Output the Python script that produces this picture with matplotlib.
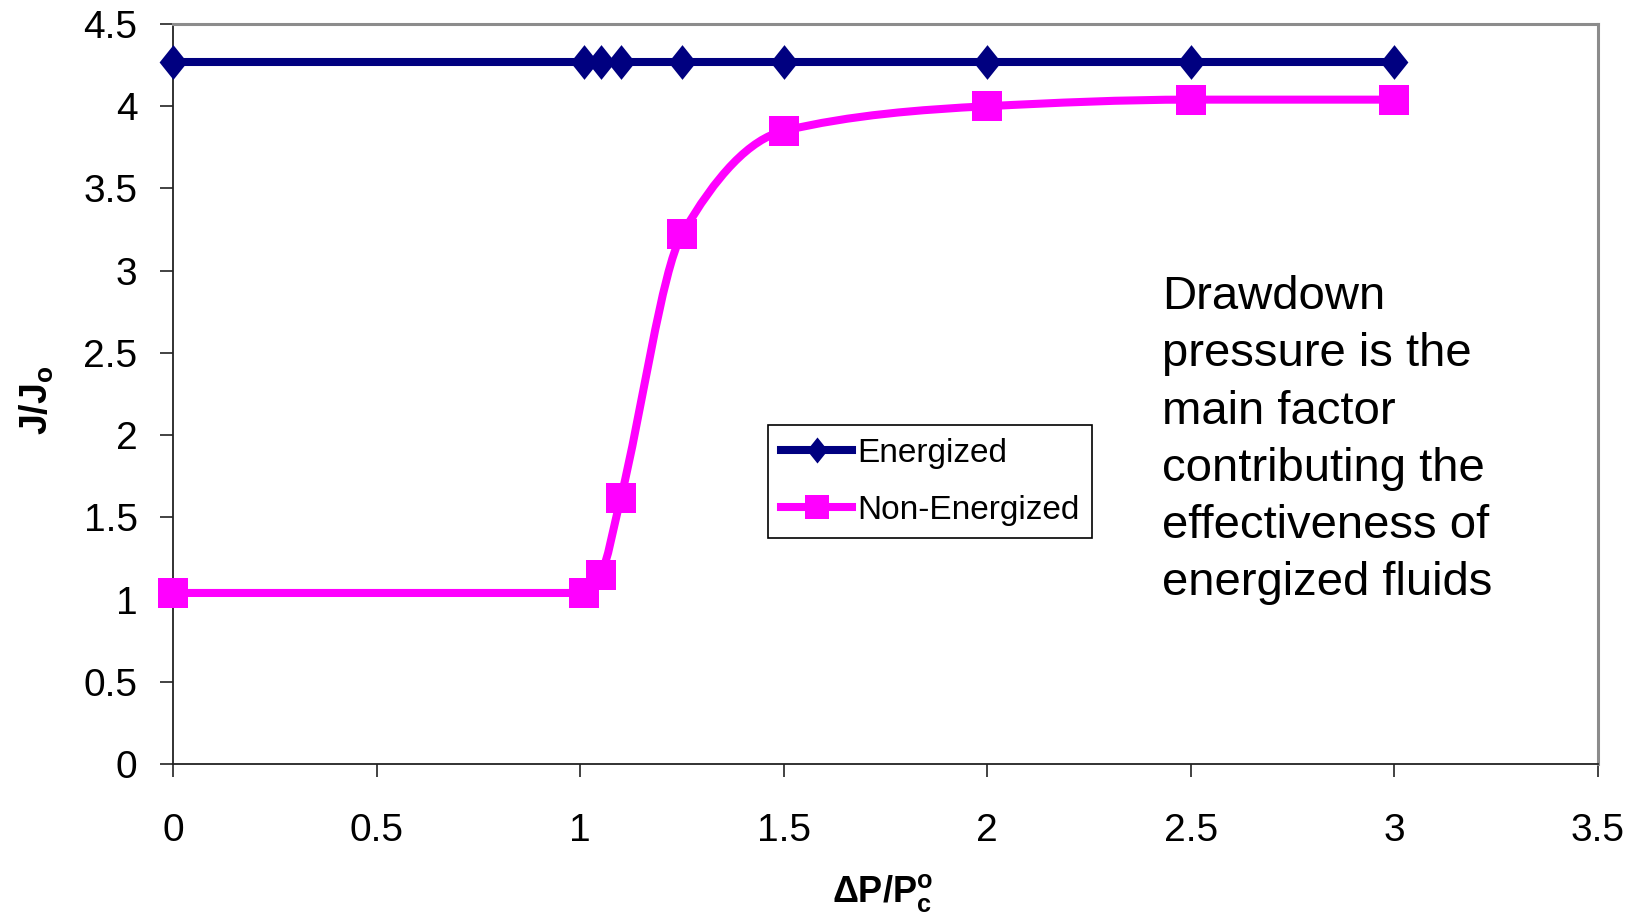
import numpy as np
import matplotlib
matplotlib.use('Agg')
import matplotlib.pyplot as plt
from matplotlib.path import Path
from matplotlib.patches import PathPatch
from matplotlib.lines import Line2D
from matplotlib.ticker import FuncFormatter

# --- fonts (Arial look-alike) ---
plt.rcParams['font.family'] = 'Liberation Sans'
plt.rcParams['mathtext.fontset'] = 'custom'
plt.rcParams['mathtext.rm'] = 'Liberation Sans'
plt.rcParams['mathtext.it'] = 'Liberation Sans:italic'
plt.rcParams['mathtext.bf'] = 'Liberation Sans:bold'

# --- data ---
dp_ratio = [0, 1.01, 1.05, 1.1, 1.25, 1.5, 2, 2.5, 3]
energized = [4.27, 4.27, 4.27, 4.27, 4.27, 4.27, 4.27, 4.27, 4.27]
non_energized = [1.04, 1.04, 1.15, 1.62, 3.22, 3.85, 4.00, 4.04, 4.04]

x_ticks = [0, 0.5, 1, 1.5, 2, 2.5, 3, 3.5]
y_ticks = [0, 0.5, 1, 1.5, 2, 2.5, 3, 3.5, 4, 4.5]

note = ("Drawdown\npressure is the\nmain factor\ncontributing the\n"
        "effectiveness of\nenergized fluids")

navy = '#000080'
pink = '#FF00FF'


def smooth_path(xs, ys):
    # excel-like smoothed line: monotone cubic hermite written as bezier segments
    xs = np.asarray(xs, float)
    ys = np.asarray(ys, float)
    h = np.diff(xs)
    d = np.diff(ys) / h
    m = np.zeros_like(xs)
    m[0], m[-1] = d[0], d[-1]
    for k in range(1, len(xs) - 1):
        if d[k - 1] * d[k] > 0:
            w1 = 2 * h[k] + h[k - 1]
            w2 = h[k] + 2 * h[k - 1]
            m[k] = (w1 + w2) / (w1 / d[k - 1] + w2 / d[k])
    verts = [(xs[0], ys[0])]
    codes = [Path.MOVETO]
    for k in range(len(xs) - 1):
        verts += [(xs[k] + h[k] / 3, ys[k] + m[k] * h[k] / 3),
                  (xs[k + 1] - h[k] / 3, ys[k + 1] - m[k + 1] * h[k] / 3),
                  (xs[k + 1], ys[k + 1])]
        codes += [Path.CURVE4] * 3
    return Path(verts, codes)


diamond = [(-0.4, 0), (0, 0.5), (0.4, 0), (0, -0.5), (-0.4, 0)]

fig = plt.figure(figsize=(16.38, 9.16), dpi=100)
ax = fig.add_axes([173 / 1638, 1 - 764 / 916, 1425 / 1638, 740 / 916])

# energized: straight line with diamonds
ax.plot(dp_ratio, energized, color=navy, lw=5.8, marker=diamond, ms=25,
        mfc=navy, mec=navy, mew=0, zorder=3, clip_on=False)

# non-energized: smoothed line + squares
ax.add_patch(PathPatch(smooth_path(dp_ratio, non_energized), fill=False,
                       edgecolor=pink, lw=5.8, zorder=2, capstyle='butt'))
ax.plot(dp_ratio, non_energized, ls='none', marker='s', ms=22.3,
        mfc=pink, mec=pink, mew=0, zorder=4, clip_on=False)

ax.set_xlim(0, 3.5)
ax.set_ylim(0, 4.5)
ax.set_xticks(x_ticks)
ax.set_yticks(y_ticks)
fmt = FuncFormatter(lambda v, p: '%g' % v)
ax.xaxis.set_major_formatter(fmt)
ax.yaxis.set_major_formatter(fmt)
ax.tick_params(axis='x', direction='out', length=9.5, width=1.2, pad=26,
               labelsize=28, color='#222222')
ax.tick_params(axis='y', direction='out', length=9.5, width=1.2, pad=16,
               labelsize=28, color='#222222')

for s in ['left', 'bottom']:
    ax.spines[s].set_color('#222222')
    ax.spines[s].set_linewidth(1.3)
for s in ['top', 'right']:
    ax.spines[s].set_color('#8c8c8c')
    ax.spines[s].set_linewidth(2.2)

# axis labels
fig.text(37 / 1638, 1 - 400 / 916, r'$\mathbf{J/J_o}$', rotation=90,
         ha='center', va='center', fontsize=27)
fig.text(883 / 1638, 1 - 902 / 916, r'$\mathbf{\Delta P/P_c^o}$',
         ha='center', va='baseline', fontsize=26)

# side note
fig.text(1162 / 1638, 1 - 275 / 916, note, ha='left', va='top',
         fontsize=34, linespacing=1.39)

# legend
handles = [
    Line2D([], [], color=navy, lw=5.8, marker=diamond, ms=25, mfc=navy,
           mec=navy, mew=0),
    Line2D([], [], color=pink, lw=5.8, marker='s', ms=22.3, mfc=pink,
           mec=pink, mew=0),
]
leg = ax.legend(handles, ['Energized', 'Non-Energized'], loc='upper left',
                bbox_to_anchor=(768 / 1638, 1 - 425 / 916),
                bbox_transform=fig.transFigure, borderaxespad=0,
                fontsize=24, markerscale=0.75, handlelength=2.15,
                handletextpad=0.15, labelspacing=0.78, borderpad=0.38,
                fancybox=False, framealpha=1, edgecolor='black')
leg.get_frame().set_linewidth(1.2)

fig.savefig('out.png', dpi=100, facecolor='white')
